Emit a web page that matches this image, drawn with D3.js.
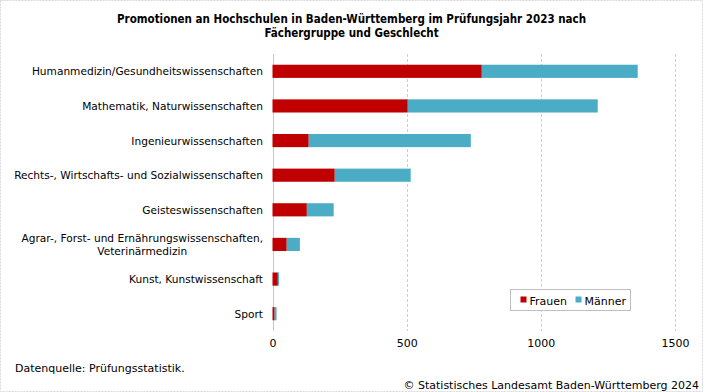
<!DOCTYPE html>
<html>
<head>
<meta charset="utf-8">
<script src="https://cdn.jsdelivr.net/npm/d3@7"></script>
<style>
  body { margin: 0; background: #fff; }
  svg { display: block; font-family: "DejaVu Sans", Verdana, sans-serif; }
</style>
</head>
<body>
<svg id="chart" width="703" height="392"></svg>
<script>
var categories = [
  "Humanmedizin/Gesundheitswissenschaften",
  "Mathematik, Naturwissenschaften",
  "Ingenieurwissenschaften",
  "Rechts-, Wirtschafts- und Sozialwissenschaften",
  "Geisteswissenschaften",
  "Agrar-, Forst- und Ernährungswissenschaften,\nVeterinärmedizin",
  "Kunst, Kunstwissenschaft",
  "Sport"
];
var frauen = [780, 504, 135, 232, 128, 53, 20, 8];
var maenner = [581, 708, 604, 283, 100, 49, 4, 7];
var ticks = [0, 500, 1000, 1500];
var seriesNames = ["Frauen", "Männer"];
var colors = ["#c00000", "#4bacc6"];

var W = 703, H = 392;
var margin = { left: 272.5, right: 28, top: 54, bottom: 61 };
var svg = d3.select('#chart');

// rahmen
svg.append('rect')
  .attr('x', 0.5).attr('y', 0.5)
  .attr('width', W - 1).attr('height', H - 1)
  .attr('fill', 'none').attr('stroke', '#d9d9d9')
  .attr('stroke-dasharray', '2,1');

// titel
svg.append('text')
  .attr('x', W / 2).attr('y', 23)
  .attr('text-anchor', 'middle')
  .style('font-family', '"DejaVu Sans Condensed", "DejaVu Sans", sans-serif')
  .style('font-weight', 'bold').style('font-size', '11.5px')
  .selectAll('tspan')
  .data(["Promotionen an Hochschulen in Baden-Württemberg im Prüfungsjahr 2023 nach", "Fächergruppe und Geschlecht"])
  .join('tspan')
  .attr('x', W / 2)
  .attr('dy', function (d, i) { return i === 0 ? 0 : 14 })
  .text(function (d) { return d });

var x = d3.scaleLinear().domain([0, 1500]).range([margin.left, W - margin.right]);
var y = d3.scaleBand().domain(categories).range([margin.top, H - margin.bottom]).paddingInner(0.62).paddingOuter(0.31);

// gitterlinien
svg.append('g')
  .selectAll('line')
  .data(ticks)
  .join('line')
  .attr('x1', function (d) { return Math.round(x(d)) + 0.5 })
  .attr('x2', function (d) { return Math.round(x(d)) + 0.5 })
  .attr('y1', margin.top)
  .attr('y2', H - margin.bottom)
  .attr('stroke', function (d) { return d === 0 ? '#c8c8c8' : '#cfcfcf' })
  .attr('stroke-dasharray', function (d) { return d === 0 ? null : '3,2' });

// achse
var axis = svg.append('g')
  .attr('transform', 'translate(0,' + (H - margin.bottom) + ')')
  .call(d3.axisBottom(x).tickValues(ticks).tickSize(0).tickPadding(8).tickFormat(d3.format('d')));
axis.select('.domain').remove();
axis.selectAll('text').style('font-size', '11px').style('font-family', '"DejaVu Sans", sans-serif').attr('fill', '#000');

// balken
var stacked = categories.map(function (c, i) { return { cat: c, f: frauen[i], m: maenner[i] } });
var stack = d3.stack().keys(['f', 'm'])(stacked);

svg.append('g')
  .selectAll('g')
  .data(stack)
  .join('g')
  .attr('fill', function (d, i) { return colors[i] })
  .selectAll('rect')
  .data(function (d) { return d })
  .join('rect')
  .attr('x', function (d) { return x(d[0]) })
  .attr('y', function (d) { return y(d.data.cat) })
  .attr('width', function (d) { return x(d[1]) - x(d[0]) })
  .attr('height', y.bandwidth());

// kategorien
var labels = svg.append('g')
  .selectAll('text')
  .data(categories)
  .join('text')
  .attr('text-anchor', 'middle')
  .style('font-size', '10.6px')
  .attr('fill', '#000');

labels.each(function (d) {
  var lines = d.split('\n');
  var t = d3.select(this);
  var cy = y(d) + y.bandwidth() / 2;
  var lh = 13;
  t.selectAll('tspan')
    .data(lines)
    .join('tspan')
    .text(function (l) { return l });
  // rechtsbündig, mehrzeilig zentriert
  var wmax = 0;
  t.selectAll('tspan').each(function () { wmax = Math.max(wmax, this.getComputedTextLength()) });
  var cx = 263 - wmax / 2;
  t.selectAll('tspan')
    .attr('x', cx)
    .attr('y', function (l, i) { return cy + 4 + (i - (lines.length - 1) / 2) * lh });
});

// legende
var lg = svg.append('g').attr('transform', 'translate(510.5,289.5)');
lg.append('rect').attr('width', 120).attr('height', 21).attr('fill', '#fff').attr('stroke', '#bfbfbf');
var items = lg.selectAll('g.item')
  .data(seriesNames)
  .join('g')
  .attr('class', 'item')
  .attr('transform', function (d, i) { return 'translate(' + (10 + i * 55) + ',0)' });
items.append('rect').attr('x', 0).attr('y', 7).attr('width', 6).attr('height', 6)
  .attr('fill', function (d, i) { return colors[i] });
items.append('text').attr('x', 9).attr('y', 15).style('font-size', '11px').text(function (d) { return d });

// quelle
svg.append('text').attr('x', 15).attr('y', 372).style('font-size', '11px').text('Datenquelle: Prüfungsstatistik.');
svg.append('text').attr('x', 699).attr('y', 389).attr('text-anchor', 'end').style('font-size', '11px')
  .text('© Statistisches Landesamt Baden-Württemberg 2024');
</script>
</body>
</html>
